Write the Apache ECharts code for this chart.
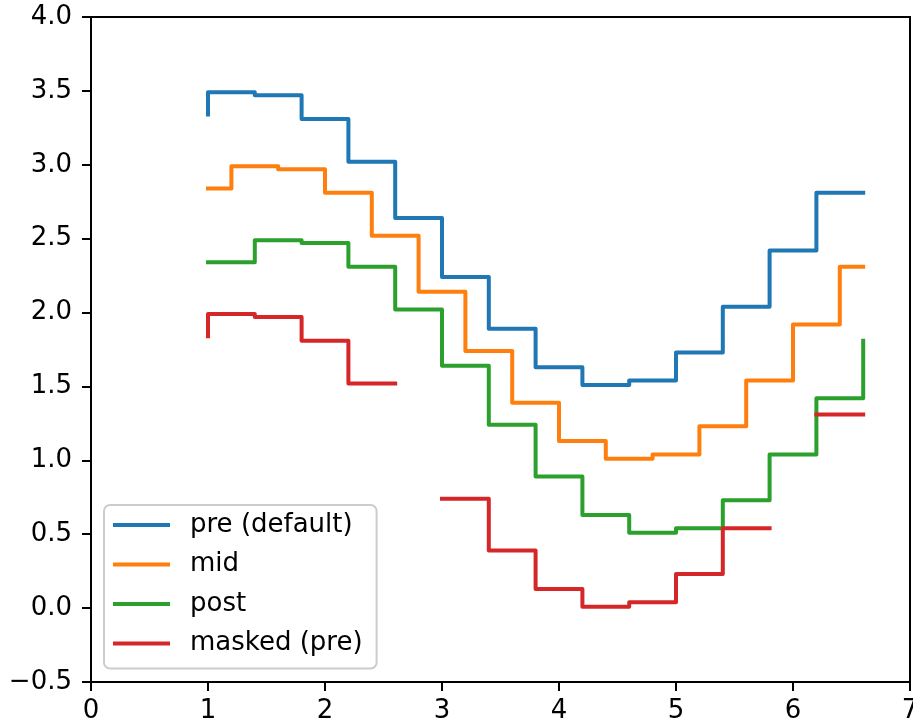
<!DOCTYPE html>
<html>
<head>
<meta charset="utf-8">
<script src="https://cdn.jsdelivr.net/npm/echarts@6/dist/echarts.min.js"></script>
<style>
html,body{margin:0;padding:0;background:#fff;}
#chart{width:913px;height:725px;}
</style>
</head>
<body>
<div id="chart"></div>
<script>
var xValues = [1.0, 1.4, 1.8, 2.2, 2.6, 3.0, 3.4, 3.8, 4.2, 4.6, 5.0, 5.4, 5.8, 6.2, 6.6];
var preValues = [3.34, 3.49, 3.47, 3.31, 3.02, 2.64, 2.24, 1.89, 1.63, 1.51, 1.54, 1.73, 2.04, 2.42, 2.81];
var midValues = [2.84, 2.99, 2.97, 2.81, 2.52, 2.14, 1.74, 1.39, 1.13, 1.01, 1.04, 1.23, 1.54, 1.92, 2.31];
var postValues = [2.34, 2.49, 2.47, 2.31, 2.02, 1.64, 1.24, 0.89, 0.63, 0.51, 0.54, 0.73, 1.04, 1.42, 1.81];
var maskedValues = [1.84, 1.99, 1.97, 1.81, 1.52, null, 0.74, 0.39, 0.13, 0.01, 0.04, 0.23, 0.54, null, 1.31];
var seriesNames = ['pre (default)', 'mid', 'post', 'masked (pre)'];
var xTicks = [0, 1, 2, 3, 4, 5, 6, 7];
var yTicks = [-0.5, 0.0, 0.5, 1.0, 1.5, 2.0, 2.5, 3.0, 3.5, 4.0];

var colors = ['#1f77b4', '#ff7f0e', '#2ca02c', '#d62728'];
var FONT = 'DejaVu Sans';

function pairs(xs, ys) {
  return xs.map(function (x, i) { return [x, ys[i]]; });
}
// matplotlib-like 'pre' step path with masked values producing gaps
function preStepPath(xs, ys) {
  var out = [];
  for (var i = 0; i < xs.length; i++) {
    out.push([xs[i], ys[i] == null ? null : ys[i]]);
    if (i < xs.length - 1) out.push([xs[i], ys[i + 1] == null ? null : ys[i + 1]]);
  }
  return out.map(function (p) { return p[1] == null ? [p[0], '-'] : p; });
}

var lineStyleBase = function (c) {
  return { color: c, width: 4, cap: 'square', join: 'round' };
};

var chart = echarts.init(document.getElementById('chart'), null, { renderer: 'canvas' });
chart.setOption({
  animation: false,
  backgroundColor: '#ffffff',
  color: colors,
  grid: { left: 91, top: 17, right: 3, bottom: 43, show: true, borderColor: '#000', borderWidth: 2, backgroundColor: 'transparent', containLabel: false, outerBoundsMode: 'none' },
  xAxis: {
    type: 'value', min: xTicks[0], max: xTicks[xTicks.length - 1], interval: 1,
    axisLine: { show: true, onZero: false, lineStyle: { color: '#000', width: 2 } },
    axisTick: { show: true, inside: false, length: 9, lineStyle: { color: '#000', width: 2 } },
    axisLabel: { color: '#000', fontFamily: FONT, fontSize: 26, margin: 16, formatter: function (v) { return String(v); } },
    splitLine: { show: false }
  },
  yAxis: {
    type: 'value', min: yTicks[0], max: yTicks[yTicks.length - 1], interval: 0.5,
    axisLine: { show: true, onZero: false, lineStyle: { color: '#000', width: 2 } },
    axisTick: { show: true, inside: false, length: 9, lineStyle: { color: '#000', width: 2 } },
    axisLabel: {
      color: '#000', fontFamily: FONT, fontSize: 26, margin: 19,
      formatter: function (v) { return (v < 0 ? '\u2212' : '') + Math.abs(v).toFixed(1); }
    },
    splitLine: { show: false }
  },
  legend: {
    orient: 'vertical', left: 104, top: 505,
    data: seriesNames,
    icon: 'rect', itemWidth: 57, itemHeight: 4, itemGap: 9.5,
    padding: [5, 14, 10, 9],
    backgroundColor: 'rgba(255,255,255,0.8)',
    borderColor: '#cccccc', borderWidth: 2, borderRadius: 6,
    textStyle: { color: '#000', fontFamily: FONT, fontSize: 26, lineHeight: 30, padding: [0, 0, 0, 15] }
  },
  series: [
    { name: seriesNames[0], type: 'line', step: 'start', symbol: 'none', data: pairs(xValues, preValues), lineStyle: lineStyleBase(colors[0]), itemStyle: { color: colors[0] } },
    { name: seriesNames[1], type: 'line', step: 'middle', symbol: 'none', data: pairs(xValues, midValues), lineStyle: lineStyleBase(colors[1]), itemStyle: { color: colors[1] } },
    { name: seriesNames[2], type: 'line', step: 'end', symbol: 'none', data: pairs(xValues, postValues), lineStyle: lineStyleBase(colors[2]), itemStyle: { color: colors[2] } },
    { name: seriesNames[3], type: 'line', symbol: 'none', connectNulls: false, data: preStepPath(xValues, maskedValues), lineStyle: lineStyleBase(colors[3]), itemStyle: { color: colors[3] } }
  ]
});
</script>
</body>
</html>
